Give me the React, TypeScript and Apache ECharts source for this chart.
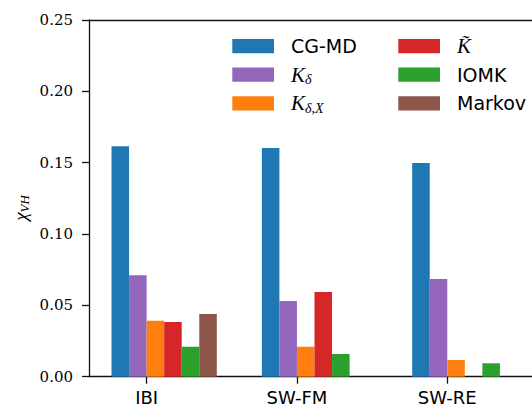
import React, { useEffect, useRef } from 'react';
import * as echarts from 'echarts';

const categories = ['IBI', 'SW-FM', 'SW-RE'];
const seriesNames = ['CG-MD', 'K_delta', 'K_delta_X', 'K_tilde', 'IOMK', 'Markov'];
const seriesColors = ['#1f77b4', '#9467bd', '#ff7f0e', '#d62728', '#2ca02c', '#8c564b'];
const cgmdValues = [0.1615, 0.1603, 0.1498];
const kDeltaValues = [0.0711, 0.0531, 0.0685];
const kDeltaXValues = [0.0392, 0.021, 0.0117];
const kTildeValues = [0.0383, 0.0594, null];
const iomkValues = [0.021, 0.0159, 0.0094];
const markovValues = [0.044, null, null];
const yMin = 0;
const yMax = 0.25;
const yInterval = 0.05;

const legendLabels: Record<string, string> = {
  'CG-MD': '{sp| }{t|CG-MD}',
  K_delta: '{sp| }{m|K}{s|δ}',
  K_delta_X: '{sp| }{m|K}{s|δ,X}',
  K_tilde: '{sp| }{m|K̃}',
  IOMK: '{sp| }{t|IOMK}',
  Markov: '{sp| }{t|Markov}',
};

export default function App() {
  const ref = useRef<HTMLDivElement>(null);
  useEffect(() => {
    document.body.style.margin = '0';
    const chart = echarts.init(ref.current!, undefined, { renderer: 'svg' });
    const allValues = [cgmdValues, kDeltaValues, kDeltaXValues, kTildeValues, iomkValues, markovValues];
    const rich = {
      sp: { width: 12, lineHeight: 24, fontSize: 12 },
      t: { fontFamily: 'DejaVu Sans', fontSize: 19, lineHeight: 24, color: '#000' },
      m: { fontFamily: 'Liberation Serif', fontStyle: 'italic', fontSize: 21, lineHeight: 24, color: '#000' },
      s: { fontFamily: 'Liberation Serif', fontStyle: 'italic', fontSize: 14, lineHeight: 14, verticalAlign: 'bottom', color: '#000' },
    };
    const legendPos = [
      [232.3, 34.2], [232.3, 62.7], [232.3, 91.3],
      [398.3, 34.2], [398.3, 62.7], [398.3, 91.3],
    ];
    const legends = seriesNames.map((name, i) => ({
      data: [name],
      left: legendPos[i][0],
      top: legendPos[i][1],
      padding: 0,
      itemGap: 0,
      itemWidth: 41.7,
      itemHeight: 14.3,
      icon: 'rect',
      selectedMode: false,
      formatter: (n: string) => legendLabels[n],
      textStyle: { rich, lineHeight: 24 },
    }));
    const line = { color: '#111', width: 1.3 };
    chart.setOption({
      animation: false,
      grid: [
        { left: 89, top: 20, width: 451, height: 356.7, outerBoundsMode: 'none', containLabel: false },
        { left: 71.45, top: 20, width: 451, height: 356.7, outerBoundsMode: 'none', containLabel: false },
      ],
      xAxis: [
        {
          type: 'category', gridIndex: 0, data: categories,
          axisLine: { show: true, lineStyle: line },
          axisTick: { show: false }, axisLabel: { show: false }, splitLine: { show: false },
        },
        {
          type: 'category', gridIndex: 1, data: categories,
          axisLine: { show: false },
          axisTick: { show: true, alignWithLabel: true, length: 7, lineStyle: line },
          axisLabel: { show: true, margin: 12, fontFamily: 'DejaVu Sans', fontSize: 18, color: '#000' },
          splitLine: { show: false },
        },
        {
          type: 'category', gridIndex: 0, position: 'top', data: categories,
          axisLine: { show: true, lineStyle: line },
          axisTick: { show: false }, axisLabel: { show: false }, splitLine: { show: false },
        },
      ],
      yAxis: [
        {
          type: 'value', gridIndex: 0, min: yMin, max: yMax, interval: yInterval,
          axisLine: { show: true, lineStyle: line },
          axisTick: { show: true, length: 7, lineStyle: line },
          axisLabel: { margin: 16, fontFamily: 'DejaVu Serif', fontSize: 15, color: '#000', formatter: (v: number) => v.toFixed(2) },
          splitLine: { show: false },
        },
        { type: 'value', gridIndex: 1, show: false, min: yMin, max: yMax },
      ],
      legend: legends,
      series: seriesNames.map((name, i) => ({
        name,
        type: 'bar',
        xAxisIndex: 0,
        yAxisIndex: 0,
        data: allValues[i],
        barWidth: 17.55,
        barGap: '0%',
        itemStyle: { color: seriesColors[i] },
      })),
      graphic: [
        {
          type: 'text',
          x: 20,
          y: 208,
          rotation: Math.PI / 2,
          style: {
            text: '{c|χ}{s|VH}',
            align: 'center',
            verticalAlign: 'middle',
            rich: {
              c: { fontFamily: 'Liberation Serif', fontStyle: 'italic', fontSize: 19, lineHeight: 22, fill: '#000' },
              s: { fontFamily: 'Liberation Serif', fontStyle: 'italic', fontSize: 13, lineHeight: 13, verticalAlign: 'bottom', fill: '#000' },
            },
          },
        },
      ],
    });
    return () => chart.dispose();
  }, []);
  return <div ref={ref} style={{ position: 'absolute', left: 0, top: 0, width: 532, height: 408 }} />;
}
